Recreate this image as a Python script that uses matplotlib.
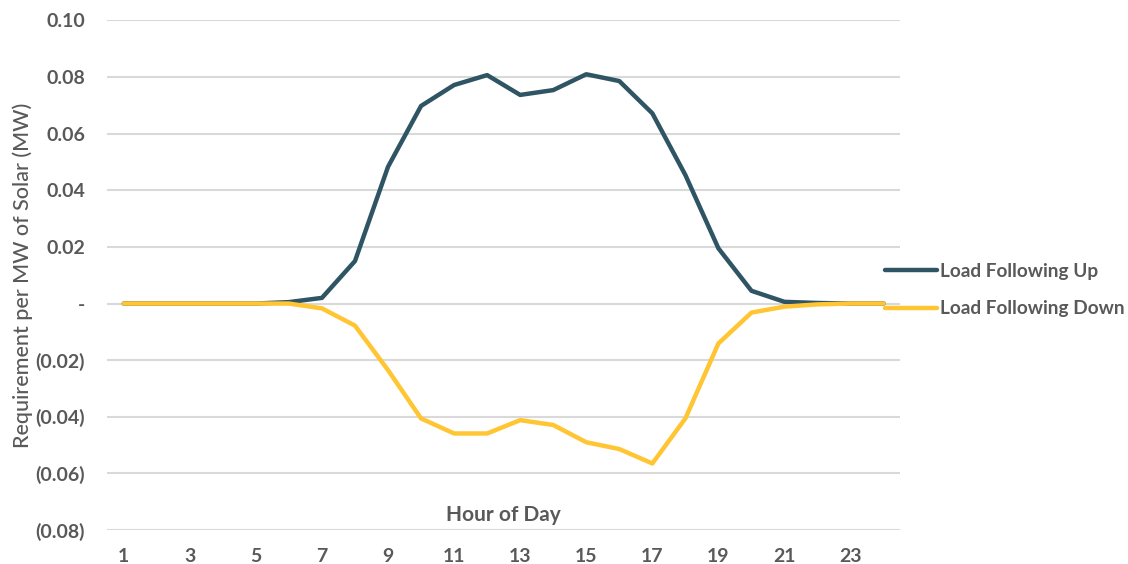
import matplotlib.pyplot as plt
from matplotlib.ticker import FuncFormatter

hours = list(range(1, 25))
load_up = [0, 0, 0, 0, 0, 0.0005, 0.002, 0.015, 0.0483, 0.0698, 0.0772, 0.0807,
           0.0737, 0.0754, 0.081, 0.0786, 0.0672, 0.0454, 0.0195, 0.0045, 0.0006,
           0.0002, 0, 0]
load_down = [0, 0, 0, 0, 0, 0, -0.0017, -0.0078, -0.0235, -0.0406, -0.0459, -0.0459,
             -0.0412, -0.0429, -0.049, -0.0514, -0.0565, -0.0406, -0.0141, -0.0032,
             -0.0011, -0.0003, 0, 0]
xticks = list(range(1, 24, 2))
yticks = [-0.08, -0.06, -0.04, -0.02, 0, 0.02, 0.04, 0.06, 0.08, 0.10]

plt.rcParams['font.family'] = ['Lato', 'DejaVu Sans']
grey = "#595959"

fig = plt.figure(figsize=(11.28, 5.64), dpi=100)
ax = fig.add_axes([0.095, 0.0603, 0.703, 0.9034])

ax.plot(hours, load_up, color="#2F5564", lw=3.2, label="Load Following Up",
        solid_capstyle="round", zorder=3)
ax.plot(hours, load_down, color="#FFC533", lw=3.2, label="Load Following Down",
        solid_capstyle="round", zorder=3)

ax.set_xlim(0.5, 24.5)
ax.set_ylim(-0.08, 0.10)
ax.set_yticks(yticks)
ax.set_xticks(xticks)


def fmt(v, pos):
    if abs(v) < 1e-9:
        return "-"
    if v < 0:
        return "({:.2f})".format(-v)
    return "{:.2f}".format(v)


ax.yaxis.set_major_formatter(FuncFormatter(fmt))
ax.grid(axis="y", color="#D9D9D9", lw=1.5, zorder=0)
for s in ax.spines.values():
    s.set_visible(False)
ax.tick_params(axis="both", length=0, labelcolor=grey, labelsize=14)
ax.tick_params(axis="y", pad=16)
ax.tick_params(axis="x", pad=13)
for lab in ax.get_xticklabels() + ax.get_yticklabels():
    lab.set_fontweight("bold")

ax.set_ylabel("Requirement per MW of Solar (MW)", color=grey, fontsize=15.5,
              fontweight="medium", labelpad=2)
ax.text(0.5, 0.03, "Hour of Day", transform=ax.transAxes, ha="center", va="center",
        color=grey, fontsize=15, fontweight="bold")

leg = ax.legend(loc="center left", bbox_to_anchor=(0.981, 0.471), frameon=False,
                borderpad=0, borderaxespad=0, handlelength=2.75, handletextpad=0.12,
                labelspacing=1.1, fontsize=13.7)
for t in leg.get_texts():
    t.set_color(grey)
    t.set_fontweight("bold")

fig.savefig("out.png", dpi=100)
